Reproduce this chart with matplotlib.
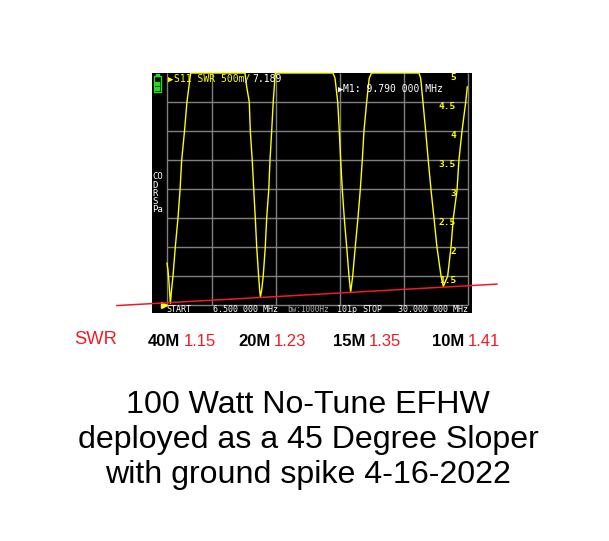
import matplotlib
matplotlib.use("Agg")
import matplotlib.pyplot as plt
from matplotlib.patches import Rectangle

# Data
trace_freq = [6.50,6.58,6.66,6.73,6.77,6.84,6.97,7.15,7.36,7.52,7.65,7.87,8.06,8.35,
              12.59,12.73,12.93,13.01,13.16,13.30,13.40,13.51,13.66,13.74,13.80,13.90,14.02,14.18,14.29,14.45,14.55,14.68,14.80,14.96,
              19.47,19.63,19.84,19.96,20.07,20.20,20.35,20.54,20.72,20.85,21.01,21.21,21.42,21.60,21.76,21.89,22.10,22.30,22.48,
              26.19,26.32,26.50,26.71,26.91,27.13,27.36,27.59,27.91,28.09,28.43,28.69,28.87,29.16,29.31,29.55,29.84,29.96]
trace_swr = [1.72,1.60,1.38,1.14,1.03,1.22,1.50,2.00,2.50,2.98,3.50,4.00,4.50,5.00,
             5.00,4.76,4.50,4.00,3.50,2.90,2.50,2.00,1.50,1.26,1.14,1.26,1.50,2.00,2.50,2.98,3.50,4.00,4.50,5.00,
             5.00,4.91,4.50,4.00,3.50,2.98,2.50,2.00,1.50,1.22,1.50,2.00,2.50,2.98,3.50,4.00,4.50,4.91,5.00,
             5.00,4.91,4.50,4.00,3.50,2.98,2.50,2.00,1.50,1.32,1.50,2.00,2.50,2.98,3.50,4.00,4.50,4.76]
red_freq = [2.59, 32.28]
red_swr = [0.99, 1.36]
freq_grid = [6.5, 10, 15, 20, 25, 30]
swr_grid = [1, 1.5, 2, 2.5, 3, 3.5, 4, 4.5]
swr_labels = [1.5, 2, 2.5, 3, 3.5, 4, 4.5, 5]
swr_label_text = ["1.5", "2", "2.5", "3", "3.5", "4", "4.5", "5"]
bands = ["40M", "20M", "15M", "10M"]
band_swr = ["1.15", "1.23", "1.35", "1.41"]
caption = ["100 Watt No-Tune EFHW", "deployed as a 45 Degree Sloper", "with ground spike 4-16-2022"]
side_letters = ["CO", "D", "R", "S", "Pa"]

W, H = 609, 541
fx = lambda x: x / W
fy = lambda y: 1 - y / H

fig = plt.figure(figsize=(W / 100, H / 100), dpi=100, facecolor="white")
ax = fig.add_axes([fx(152), fy(313), 320 / W, 240 / H], facecolor="black")
ax.set_xlim(5.33, 30.33)
ax.set_ylim(0.862, 5.0)
ax.set_xticks([]); ax.set_yticks([])
for s in ax.spines.values():
    s.set_visible(False)

ax.vlines(freq_grid, 1, 5, color="#808080", lw=1, zorder=1)
ax.hlines(swr_grid, 6.5, 30, color="#808080", lw=1, zorder=1)

ax.plot(trace_freq, trace_swr, color="#ffff00", lw=1, zorder=2, clip_on=False)
ax.plot(red_freq, red_swr, color="#ee1c25", lw=1.1, zorder=4, clip_on=False)
ax.plot([6.27], [1.0], marker=">", ms=4, color="#ffff00", zorder=3)

MONO = "DejaVu Sans Mono"
def scr(x, y, s, color="white", size=7.0, ha="left"):
    fig.text(fx(x), fy(y), s, color=color, fontsize=size, family=MONO, ha=ha,
             va="center", zorder=5)

# SWR scale labels inside the screen
for v, t in zip(swr_labels, swr_label_text):
    ax.annotate(t, xy=(29.08, v), xytext=(0, -3.6), textcoords="offset points",
                color="#ffff00", fontsize=6.8, family=MONO, weight="bold", ha="right", va="center",
                zorder=5)

scr(168, 79, "\u25b6", "#ffff00", 6.5)
scr(174, 79, "S11 SWR 500m/", "#ffff00")
scr(252, 79, "7.189")
scr(338, 89, "\u25b6", "white", 6.5)
scr(343, 89, "M1: 9.790 000 MHz")

scr(166, 309.5, "START", size=6.0)
scr(213, 309.5, "6.500 000 MHz", size=6.0)
scr(287, 309.5, "bw:1000Hz", "#b0b0b0", size=5.6)
scr(337, 309.5, "101p", size=6.0)
scr(362, 309.5, "STOP", size=6.0)
scr(398, 309.5, "30.000 000 MHz", size=6.0)

for y, s in zip([177, 185, 193, 201, 209], side_letters):
    scr(152, y, s, size=6.5)

# Battery
fig.add_artist(Rectangle((fx(153.5), fy(91.5)), 7 / W, 15 / H, fill=False, ec="#22dd22", lw=1,
                         transform=fig.transFigure, zorder=5))
fig.add_artist(Rectangle((fx(155.5), fy(76)), 3 / W, 1.5 / H, color="#22dd22",
                         transform=fig.transFigure, zorder=5))
for y0 in (90, 85):
    fig.add_artist(Rectangle((fx(155), fy(y0)), 4 / W, 3.5 / H, color="#22dd22",
                             transform=fig.transFigure, zorder=5))

# Annotation below the screen
SANS = "Liberation Sans"
fig.text(fx(74.5), fy(339.5), "SWR", color="#ee1c25", fontsize=13.2, family=SANS, va="center")
band_x = [148, 238, 333, 432]
for x, b, v in zip(band_x, bands, band_swr):
    fig.text(fx(x), fy(342), b, color="black", fontsize=12, family=SANS, weight="bold", va="center")
    fig.text(fx(x + 36), fy(342), v, color="#ee1c25", fontsize=12, family=SANS, va="center")

for y, line in zip([405, 440, 475], caption):
    fig.text(fx(308), fy(y), line, color="black", fontsize=23.1, family=SANS, ha="center", va="center")

fig.savefig("out.png", dpi=100)
